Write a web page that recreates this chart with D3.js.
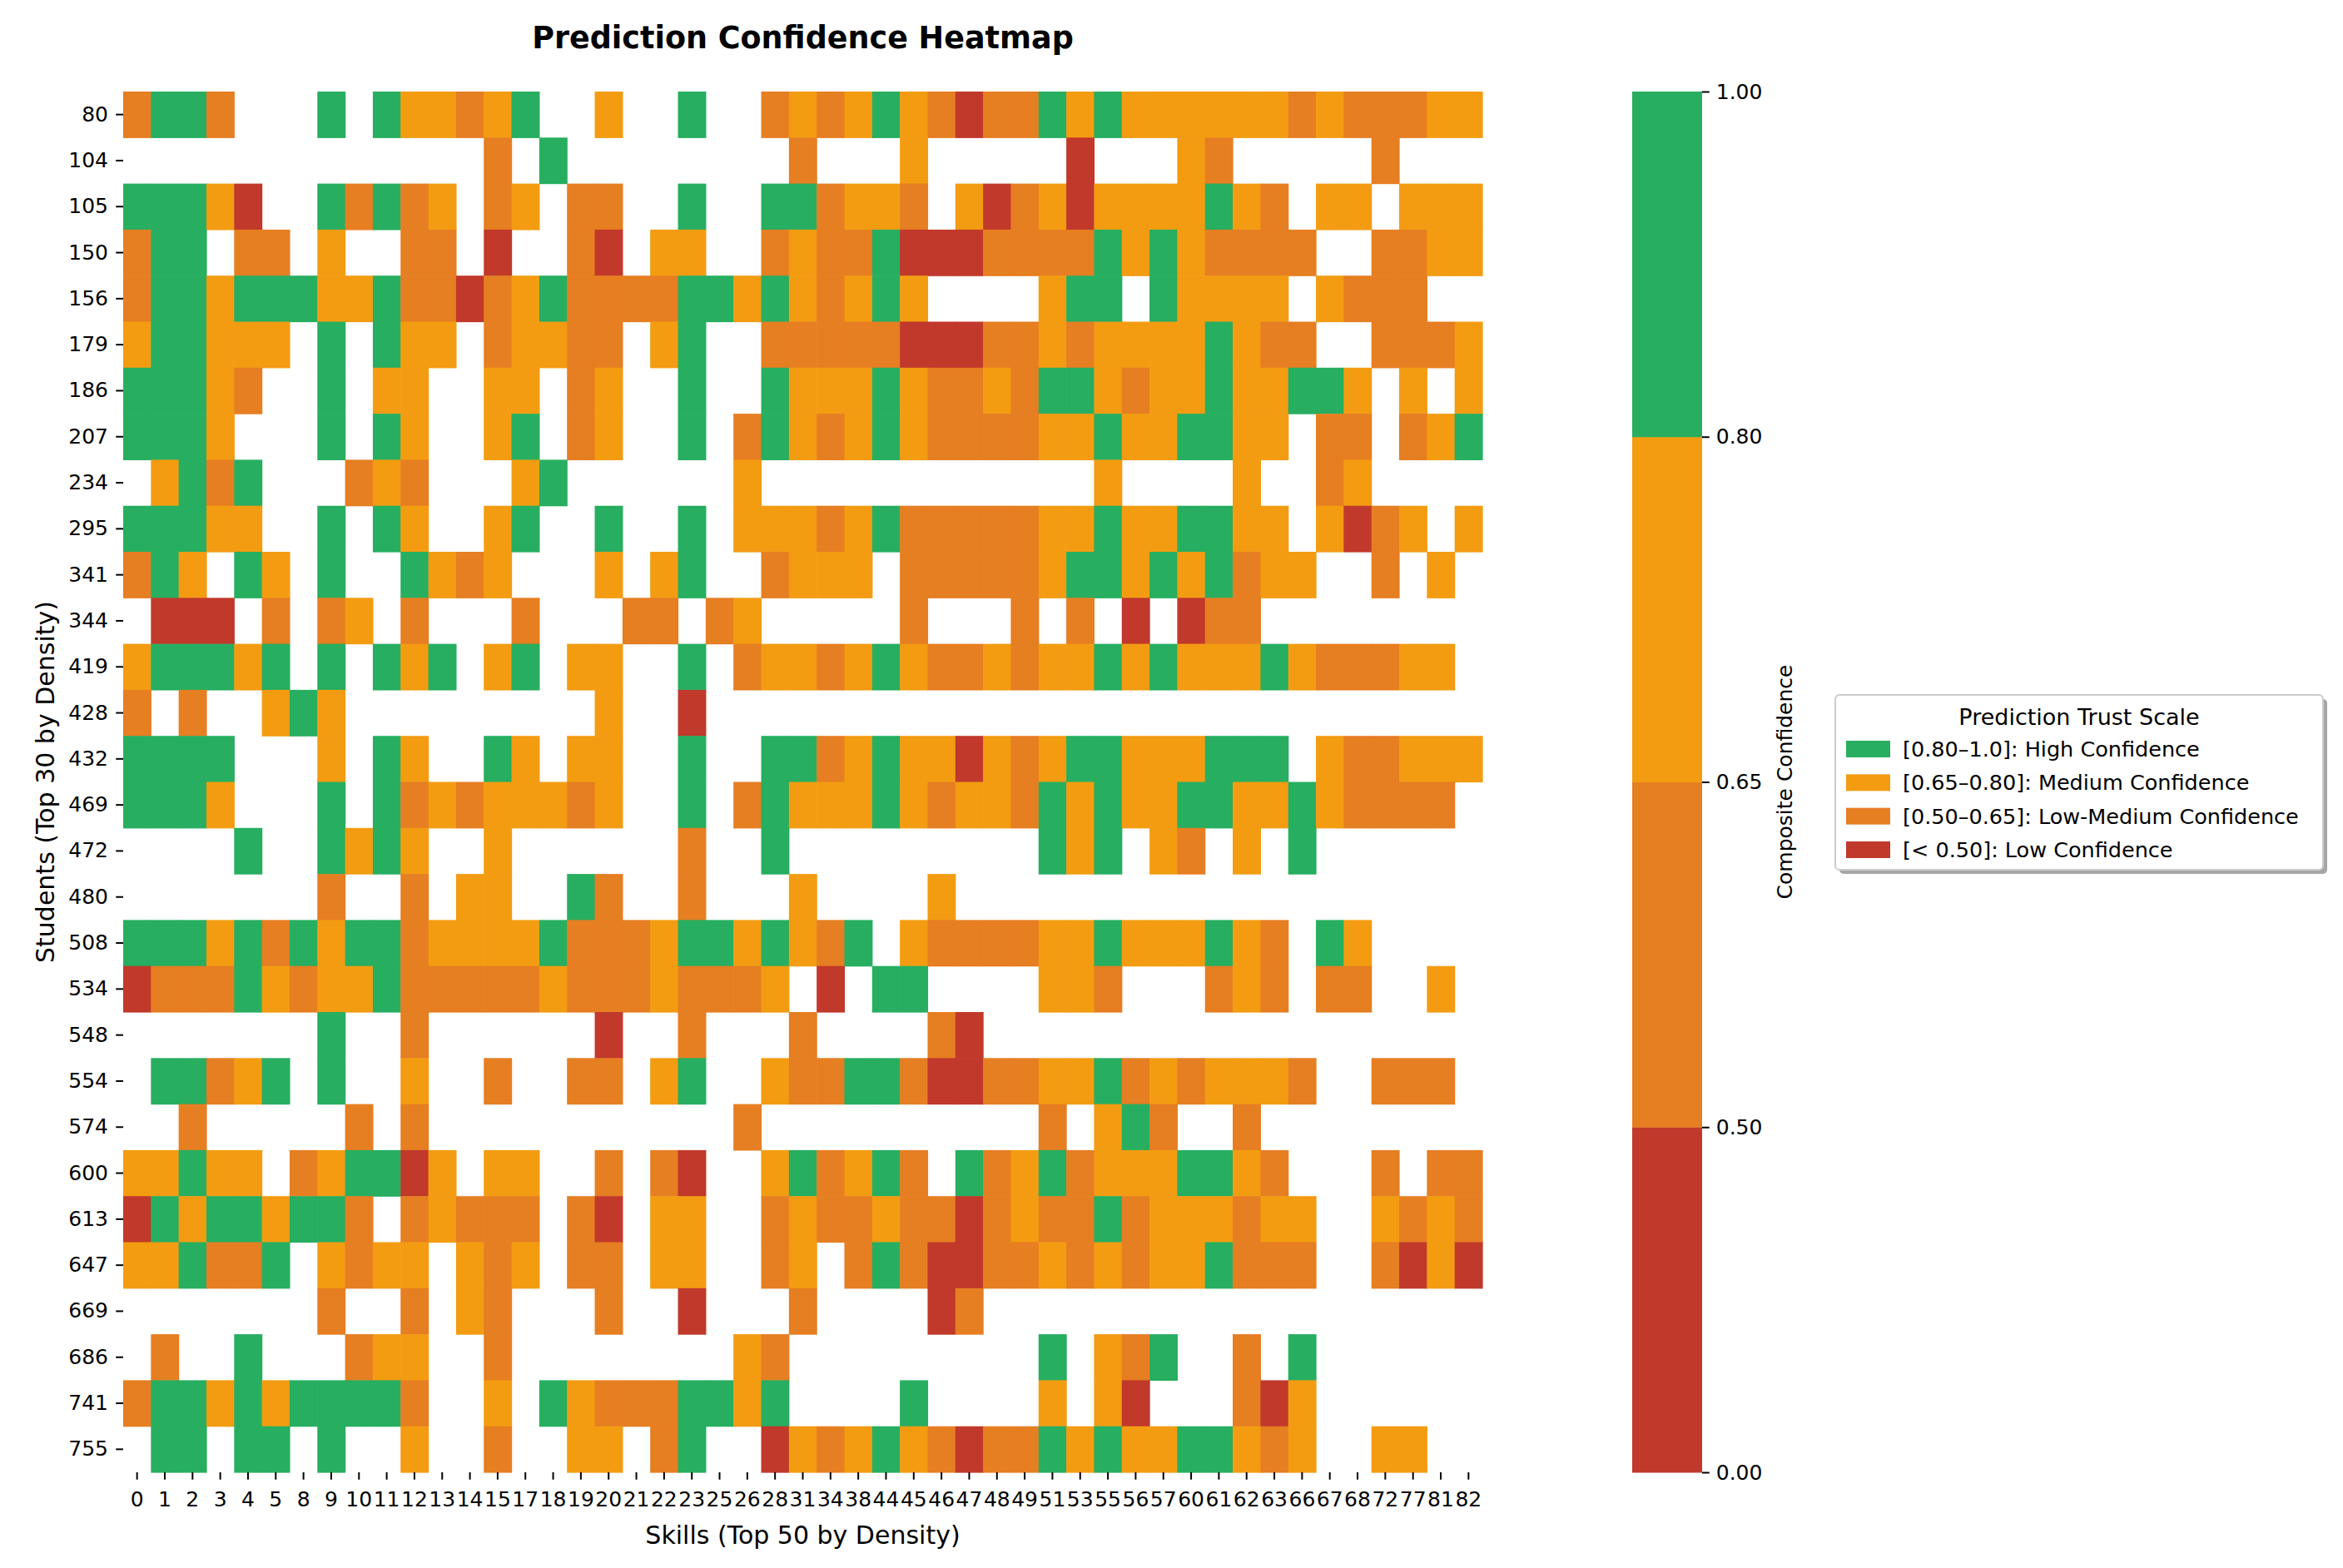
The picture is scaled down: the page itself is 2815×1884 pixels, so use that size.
<!DOCTYPE html>
<html>
<head>
<meta charset="utf-8">
<script src="https://cdn.jsdelivr.net/npm/d3@7"></script>
<style>
  body { margin: 0; background: #fff; }
  svg { display: block; }
</style>
</head>
<body>
<svg id="chart"></svg>
<script>
var FONT = '"DejaVu Sans", "Liberation Sans", sans-serif';

// rows of the heatmap (top to bottom)
var students = ['80', '104', '105', '150', '156', '179', '186', '207', '234', '295',
    '341', '344', '419', '428', '432', '469', '472', '480', '508', '534',
    '548', '554', '574', '600', '613', '647', '669', '686', '741', '755'];

// columns of the heatmap (left to right)
var skills = ['0', '1', '2', '3', '4', '5', '8', '9', '10', '11', '12', '13', '14', '15',
    '17', '18', '19', '20', '21', '22', '23', '25', '26', '28', '31', '34', '38',
    '44', '45', '46', '47', '48', '49', '51', '53', '55', '56', '57', '60', '61',
    '62', '63', '66', '67', '68', '72', '77', '81', '82'];

// trust tiers: G high, Y medium, O low-medium, R low ('.' = no prediction)
var tierCodes = ['G', 'Y', 'O', 'R'];
var tierColors = ['#27ae60', '#f39c12', '#e67e22', '#c0392b'];
var tierLabels = ['[0.80\u20131.0]: High Confidence', '[0.65\u20130.80]: Medium Confidence',
    '[0.50\u20130.65]: Low-Medium Confidence', '[< 0.50]: Low Confidence'];

// colorbar boundaries, bottom to top
var barTicks = ['0.00', '0.50', '0.65', '0.80', '1.00'];

// one string per student, one letter per skill (spaces are only for reading)
var trust = [
    'OGGO...G.GYYOYG.. Y..G..OYOYGYOROO GYGYYYYYYOYOOOYY',
    '.............O.G. .......O...Y.... .R...YO.....O...',
    'GGGYR..GOGOY.OY.O O..G..GGOYYO.YRO YRYYYYGYO.YY.YYY',
    'OGG.OO.Y..OO.R..O R.YY..OYOOGRRROO OOGYGYOOOO..OOYY',
    'OGGYGGGYYGOOROYGO OOOGGYGYOYGY.... YGG.GYYYY.YOOO..',
    'YGGYYY.G.GYY.OYYO O.YG..OOOOORRROO YOYYYYGYOO..OOOY',
    'GGGYO..G.YY..YY.O Y..G..GYYYGYOOYO GGYOYYGYYGGY.Y.Y',
    'GGGY...G.GY..YG.O Y..G.OGYOYGYOOOO YYGYYGGYY.OO.OYG',
    '.YGOG...OYO...YG. .....Y.......... ..Y....Y..OY....',
    'GGGYY..G.GY..YG.. G..G.YYYOYGOOOOO YYGYYGGYY.YROY.Y',
    'OGY.GY.G..GYOY... Y.YG..OYYY.OOOOO YGGYGYGOYY..O.Y.',
    '.RRR.O.OY.O...O.. .OO.OY.....O...O .O.R.ROO........',
    'YGGGYG.G.GYG.YG.Y Y..G.OYYOYGYOOYO YYGYGYYYGYOOOYY.',
    'O.O..YGY......... Y..R............ ................',
    'GGGG...Y.GY..GY.Y Y..G..GGOYGYYRYO YGGYYYGGG.YOOYYY',
    'GGGY...G.GOYOYYYO Y..G.OGYYYGYOYYO GYGYYGGYYGYOOOO.',
    '....G..GYGY..Y... ...O..G......... GYG.YO.Y.G......',
    '.......O..O.YY..G O..O...Y....Y... ................',
    'GGGYGOGYGGOYYYYGO OOYGGYGYOG.YOOOO YYGYYYGYO.GY....',
    'ROOOGYOYYGOOOOOYO OOYOOOY.R.GG.... YYO...OYO.OO..Y.',
    '.......G..O...... R..O...O....OR.. ................',
    '.GGOYG.G..Y..O..O O.YG..YOOGGORROO YYGOYOYYYO..OOO.',
    '..O.....O.O...... .....O.......... O.YGO..O........',
    'YYGYY.OYGGRY.YY.. O.OR..YGOYGO.GOY GOYYYGGYO...O.OO',
    'RGYGGYGGO.OYOOO.O R.YY..OYOOYOOROY OOGOYYYOYY..YOYO',
    'YYGOOG.YOYY.YOY.O O.YY..OY.OGORROO YOYOYYGOOO..ORYR',
    '.......O..O.YO... O..R...O....RO.. ................',
    '.O..G...OYY..O... .....YO......... G.YOG..O.G......',
    'OGGYGYGGGGO..Y.GY OOOGGYG....G.... Y.YR...ORY......',
    '.GG.GG.G..Y..O..Y Y.OG..RYOYGYOROO GYGYYGGYOY..YY..'
];

var width = 2815, height = 1884;
var heat = { left: 148, right: 1781, top: 110, bottom: 1769 };
var bar = { left: 1961, right: 2045 };
var tickLen = 8.75;

var svg = d3.select('#chart')
    .attr('width', width)
    .attr('height', height)
    .attr('font-family', FONT);

svg.append('rect').attr('width', width).attr('height', height).attr('fill', '#fff');

var x = d3.scaleBand().domain(skills).range([heat.left, heat.right]);
var y = d3.scaleBand().domain(students).range([heat.top, heat.bottom]);
var color = d3.scaleOrdinal().domain(tierCodes).range(tierColors);

var cells = [];
trust.forEach(function(row, i) {
    row.replace(/ /g, '').split('').forEach(function(code, j) {
        if (code !== '.') cells.push({ student: students[i], skill: skills[j], tier: code });
    });
});

svg.append('g')
    .attr('class', 'cells')
    .selectAll('rect')
    .data(cells)
    .join('rect')
    .attr('x', function(d) { return x(d.skill); })
    .attr('y', function(d) { return y(d.student); })
    .attr('width', x.bandwidth() + 0.6)
    .attr('height', y.bandwidth() + 0.6)
    .attr('fill', function(d) { return color(d.tier); });

function styleAxis(g, size) {
    g.attr('font-family', FONT).attr('font-size', size);
    g.select('.domain').remove();
    g.selectAll('.tick line').attr('stroke', '#000').attr('stroke-width', 2);
    g.selectAll('.tick text').attr('fill', '#000');
}

var xAxis = svg.append('g')
    .attr('transform', 'translate(0,' + heat.bottom + ')')
    .call(d3.axisBottom(x).tickSize(tickLen).tickPadding(14.5));
styleAxis(xAxis, 25);

var yAxis = svg.append('g')
    .attr('transform', 'translate(' + heat.left + ',0)')
    .call(d3.axisLeft(y).tickSize(tickLen).tickPadding(9.25));
styleAxis(yAxis, 25);

// title and axis labels
svg.append('text')
    .attr('x', (heat.left + heat.right) / 2)
    .attr('y', 58)
    .attr('text-anchor', 'middle')
    .attr('font-size', 36.5)
    .attr('font-weight', 'bold')
    .text('Prediction Confidence Heatmap');

svg.append('text')
    .attr('x', (heat.left + heat.right) / 2)
    .attr('y', 1855)
    .attr('text-anchor', 'middle')
    .attr('font-size', 30)
    .text('Skills (Top 50 by Density)');

svg.append('text')
    .attr('transform', 'translate(65,' + (heat.top + heat.bottom) / 2 + ') rotate(-90)')
    .attr('text-anchor', 'middle')
    .attr('font-size', 30)
    .text('Students (Top 30 by Density)');

// colorbar with evenly spaced boundaries
var barScale = d3.scalePoint().domain(barTicks).range([heat.bottom, heat.top]);
var barColors = tierColors.slice().reverse();

svg.append('g')
    .selectAll('rect')
    .data(d3.pairs(barTicks))
    .join('rect')
    .attr('x', bar.left)
    .attr('width', bar.right - bar.left)
    .attr('y', function(d) { return barScale(d[1]); })
    .attr('height', function(d) { return barScale(d[0]) - barScale(d[1]) + 0.5; })
    .attr('fill', function(d, i) { return barColors[i]; });

var barAxis = svg.append('g')
    .attr('transform', 'translate(' + bar.right + ',0)')
    .call(d3.axisRight(barScale).tickSize(tickLen).tickPadding(8));
styleAxis(barAxis, 25);

svg.append('text')
    .attr('transform', 'translate(2153,' + (heat.top + heat.bottom) / 2 + ') rotate(-90)')
    .attr('text-anchor', 'middle')
    .attr('font-size', 25)
    .text('Composite Confidence');

// legend
var lg = { x: 2205, y: 835, w: 586, h: 210 };
var legend = svg.append('g');

legend.append('rect')
    .attr('x', lg.x + 5).attr('y', lg.y + 5)
    .attr('width', lg.w).attr('height', lg.h)
    .attr('rx', 5)
    .attr('fill', '#4d4d4d').attr('fill-opacity', 0.5);

legend.append('rect')
    .attr('x', lg.x).attr('y', lg.y)
    .attr('width', lg.w).attr('height', lg.h)
    .attr('rx', 5)
    .attr('fill', '#fff')
    .attr('stroke', '#cccccc').attr('stroke-width', 2);

legend.append('text')
    .attr('x', lg.x + lg.w / 2)
    .attr('y', 862)
    .attr('dy', '0.35em')
    .attr('text-anchor', 'middle')
    .attr('font-size', 27)
    .text('Prediction Trust Scale');

var rowY = d3.scalePoint().domain(tierCodes).range([900, 1021]);

var entry = legend.selectAll('g.entry')
    .data(tierCodes)
    .join('g')
    .attr('class', 'entry')
    .attr('transform', function(d) { return 'translate(0,' + rowY(d) + ')'; });

entry.append('rect')
    .attr('x', 2218).attr('y', -10)
    .attr('width', 53).attr('height', 20)
    .attr('fill', function(d) { return color(d); });

entry.append('text')
    .attr('x', 2286)
    .attr('dy', '0.35em')
    .attr('font-size', 25.5)
    .text(function(d, i) { return tierLabels[i]; });
</script>
</body>
</html>
